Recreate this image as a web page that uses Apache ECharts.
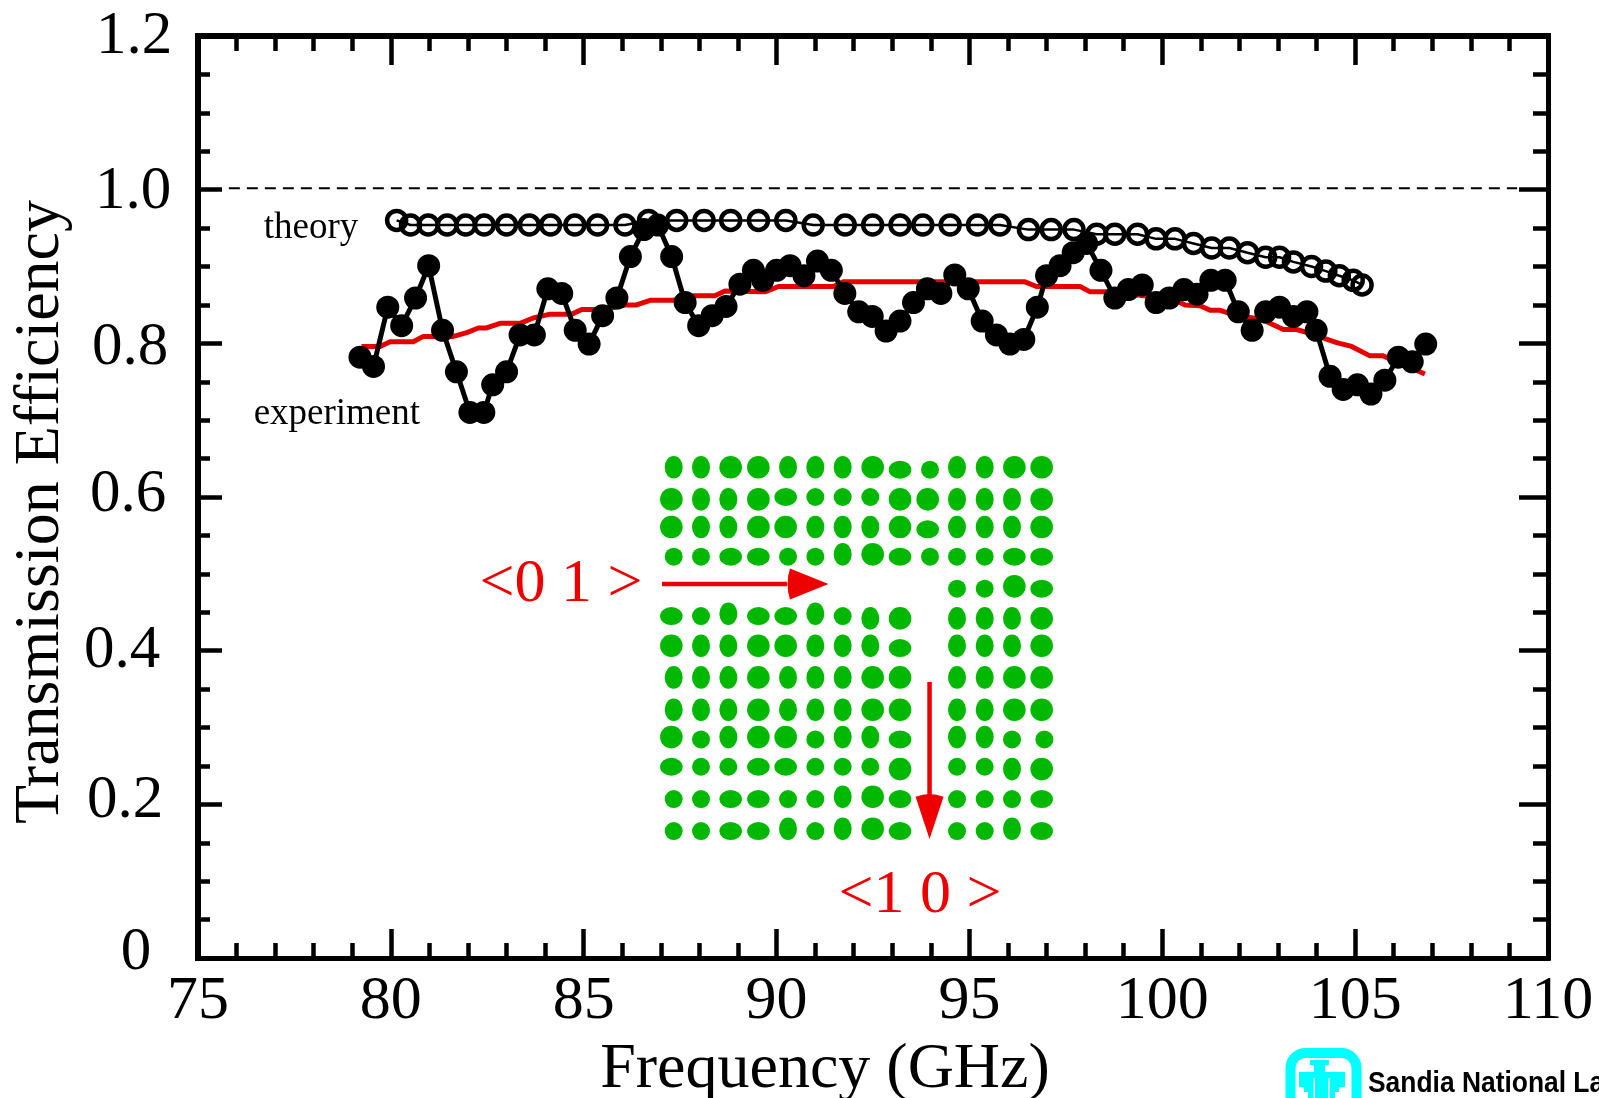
<!DOCTYPE html>
<html><head><meta charset="utf-8">
<style>html,body{margin:0;padding:0;background:#fff;overflow:hidden}#c{width:1599px;height:1098px}</style>
<script src="https://cdn.jsdelivr.net/npm/echarts@6/dist/echarts.min.js"></script>
</head><body><div id="c"></div>
<script>
const xTitle = 'Frequency (GHz)';
const yTitle = 'Transmission Efficiency';
const yTickLabels = ['0','0.2','0.4','0.6','0.8','1.0','1.2'];
const expFreq = [79.20,79.55,79.92,80.28,80.64,80.98,81.34,81.70,82.05,82.41,82.64,83.00,83.35,83.72,84.07,84.43,84.78,85.14,85.49,85.86,86.21,86.56,86.92,87.28,87.63,87.98,88.33,88.69,89.05,89.40,89.64,90.00,90.35,90.71,91.06,91.42,91.77,92.13,92.48,92.84,93.20,93.55,93.91,94.26,94.62,94.97,95.33,95.70,96.05,96.41,96.76,97.00,97.35,97.69,98.04,98.41,98.77,99.12,99.48,99.84,100.18,100.56,100.90,101.26,101.63,101.97,102.33,102.68,103.04,103.40,103.75,103.99,104.35,104.69,105.06,105.41,105.77,106.12,106.48,106.83];
const expEff = [.782,.770,.847,.823,.859,.901,.817,.763,.710,.710,.746,.763,.811,.811,.871,.865,.817,.799,.836,.859,.913,.948,.954,.913,.853,.823,.836,.848,.877,.895,.882,.895,.901,.888,.907,.895,.865,.841,.835,.816,.829,.853,.871,.865,.889,.871,.829,.811,.799,.805,.847,.888,.901,.918,.930,.895,.859,.870,.876,.853,.859,.870,.864,.882,.882,.841,.817,.841,.847,.835,.841,.817,.757,.740,.746,.734,.752,.782,.776,.799];
const theoryFreq = [80.15,80.51,80.97,81.46,81.94,82.42,83.00,83.59,84.14,84.77,85.36,86.07,86.68,87.41,88.12,88.81,89.53,90.24,90.95,91.78,92.49,93.20,93.79,94.50,95.21,95.79,96.53,97.12,97.71,98.30,98.77,99.36,99.84,100.33,100.81,101.28,101.74,102.21,102.68,103.04,103.40,103.87,104.24,104.59,104.95,105.18];
const theoryEff = [.960,.954,.954,.954,.954,.954,.954,.954,.954,.954,.954,.954,.960,.960,.960,.960,.960,.960,.954,.954,.954,.954,.954,.954,.954,.954,.948,.948,.948,.942,.942,.942,.936,.936,.930,.924,.924,.918,.912,.912,.906,.900,.894,.888,.882,.876];
const redFreq = [79.24,79.72,79.98,80.58,80.84,81.62,81.97,82.27,82.48,82.83,83.35,83.69,84.13,84.69,84.95,85.51,86.11,86.37,86.72,87.32,87.84,88.40,88.66,89.70,90.05,91.47,91.73,96.44,96.74,97.87,98.13,98.73,99.51,100.20,100.59,100.98,101.24,101.50,101.93,102.36,102.71,103.14,103.48,103.83,104.52,104.91,105.37,105.71,106.81];
const redEff = [.796,.796,.802,.802,.809,.809,.814,.820,.820,.826,.826,.833,.838,.838,.844,.844,.850,.850,.856,.856,.862,.862,.868,.867,.874,.874,.880,.880,.874,.874,.867,.867,.862,.860,.850,.849,.843,.843,.836,.833,.828,.818,.818,.813,.801,.796,.784,.784,.760];
const unityFreq = [75.8,109.2];
const unityEff = [1.002,1.002];
// Inset lattice: column and row positions for full-size and for narrower / shorter dots.
const colFreqFull   = [87.272,88.041,88.810,89.528,90.236,91.005,91.714,92.492,93.201,93.918,94.678,95.396,96.165,96.873];
const colFreqNarrow = [87.333,88.041,88.750,89.467,90.297,91.005,91.714,92.431,93.140,93.978,94.678,95.396,96.104,96.943];
const rowEffFull  = [.63863,.59697,.56095,.52537,.48369,.44810,.40644,.36521,.32311,.28753,.24587,.20985,.16818];
const rowEffShort = [.63559,.60001,.55791,.52233,.48065,.44506,.40340,.36217,.32007,.28449,.24891,.20681,.16514];
const rowEffLow   = [.63255,.59089,.55487,.51929,.47761,.44202,.40036,.35913,.31703,.28145,.23979,.20377,.16210];
// B big, T tall, W wide, S small, . empty; lower case sits lower in its row
const latticeRows = [
 'TTBBTTTBWSTTBB','BTTBWSSSBBTTTB','BTTBBTTTBWTTTB','SSWWSSTBWSSSWW',
 '..........SSBW','WSTWWTStb.tttb','BTTBBTTTW.TTTB','TTTBTTTBB.TTBB',
 'TTTBTTTBB.TTBB','BSTBBSTTW.TTSS','WSSWWSSSB.SSTB','SSWWSSTBW.SSSW','SSWWTSTBW.SSTW'];
const arrow01Freq = [87.03,90.27];
const arrow01Eff = [.4868,.4868];
const arrow10Freq = [93.966,93.966];
const arrow10Eff = [.3592,.2109];
const annotations = [
 ['theory',77.93,.950],['experiment',78.60,.7080],['<0 1 >',84.41,.4854],['<1 0 >',93.72,.0806]];

const zip = (a,b)=>a.map((v,i)=>[v,b[i]]);
const SERIF='"Liberation Serif"';
const BLK='#000';
const dotSize={B:[22.6,22.6],T:[18,22.6],W:[22.6,18],S:[18,18]};
const lattice=[];
latticeRows.forEach((row,r)=>{[...row].forEach((c,k)=>{
  if(c==='.')return;
  const low=c===c.toLowerCase(), u=c.toUpperCase();
  const wide=u==='B'||u==='W', tall=u==='B'||u==='T';
  lattice.push({value:[wide?colFreqFull[k]:colFreqNarrow[k],low?rowEffLow[r]:(tall?rowEffFull[r]:rowEffShort[r])],symbolSize:dotSize[u]});
});});
const head='path://M50,0 L100,94 Q50,106 0,94 Z';

// Hand-set label offsets of the reference plot, [dx,dy] in px per tick label.
const labelNudge=[[5,-5],[-6,-3.5],[-9,0],[-3,-2],[-1,4.5],[2,2.5],[3,.5]];
const yRich={};
labelNudge.forEach((n,i)=>{yRich['n'+i]={color:BLK,fontFamily:SERIF,fontSize:61,
  padding:[n[1]>0?2*n[1]:0,n[0]<0?-2*n[0]:0,n[1]<0?-2*n[1]:0,n[0]>0?2*n[0]:0]};});

function xAxis(pos,lw,labels){return {type:'value',position:pos,min:75,max:110,interval:5,
  axisLine:{show:true,onZero:false,lineStyle:{color:BLK,width:lw,cap:'square'}},
  axisTick:{show:true,inside:true,length:29,lineStyle:{color:BLK,width:4.5}},
  minorTick:{show:true,splitNumber:5,length:15,lineStyle:{color:BLK,width:4.5}},
  splitLine:{show:false},minorSplitLine:{show:false},
  axisLabel:{show:labels,color:BLK,fontFamily:SERIF,fontSize:62,margin:13,hideOverlap:false},
  name:labels?xTitle:'',nameLocation:'middle',nameGap:74,
  nameTextStyle:{color:BLK,fontFamily:SERIF,fontSize:64,padding:[0,96,0,0]}};}
function yAxis(pos,lw,labels){return {type:'value',position:pos,min:0,max:1.2,interval:.2,
  axisLine:{show:true,onZero:false,lineStyle:{color:BLK,width:lw,cap:'square'}},
  axisTick:{show:true,inside:true,length:labels?24:29,lineStyle:{color:BLK,width:4.5}},
  minorTick:{show:true,splitNumber:4,length:labels?12:15,lineStyle:{color:BLK,width:4.5}},
  splitLine:{show:false},minorSplitLine:{show:false},
  axisLabel:{show:labels,color:BLK,fontFamily:SERIF,fontSize:61,margin:67,align:'center',hideOverlap:false,
    rich:yRich,formatter:v=>{const i=Math.round(v/.2);return '{n'+i+'|'+yTickLabels[i]+'}';}},
  name:labels?yTitle:'',nameLocation:'middle',nameGap:125,nameRotate:90,
  nameTextStyle:{color:BLK,fontFamily:SERIF,fontSize:64,padding:[0,30,0,0]}};}

const chart=echarts.init(document.getElementById('c'),null,{renderer:'canvas'});
const C='#00ffff';
chart.setOption({
  animation:false,backgroundColor:'#fff',
  grid:{left:198,right:51,top:36,bottom:140,containLabel:false,outerBoundsMode:'none'},
  xAxis:[xAxis('bottom',5,true),xAxis('top',6,false)],
  yAxis:[yAxis('left',6,true),yAxis('right',5,false)],
  series:[
    {name:'unity',type:'line',data:zip(unityFreq,unityEff),showSymbol:false,z:2,
      lineStyle:{color:BLK,width:2,type:[11,7]}},
    {name:'theory',type:'line',data:zip(theoryFreq,theoryEff),showAllSymbol:true,symbol:'circle',symbolSize:19,z:3,
      lineStyle:{color:BLK,width:2.5},itemStyle:{color:'rgba(0,0,0,0)',borderColor:BLK,borderWidth:4.5}},
    {name:'model',type:'line',data:zip(redFreq,redEff),showSymbol:false,z:4,
      lineStyle:{color:'#e60000',width:5,join:'round'}},
    {name:'experiment',type:'line',data:zip(expFreq,expEff),showAllSymbol:true,symbol:'circle',symbolSize:23,z:5,
      lineStyle:{color:BLK,width:5},itemStyle:{color:BLK}},
    {name:'lattice',type:'scatter',data:lattice,symbol:'circle',z:6,itemStyle:{color:'#00b800',opacity:1}},
    {name:'arrow01',type:'line',data:zip(arrow01Freq,arrow01Eff),showSymbol:false,z:7,lineStyle:{color:'#ee0000',width:4.5}},
    {name:'arrow10',type:'line',data:zip(arrow10Freq,arrow10Eff),showSymbol:false,z:7,lineStyle:{color:'#ee0000',width:4.5}},
    {name:'arrowheads',type:'scatter',z:8,symbol:head,symbolKeepAspect:false,itemStyle:{color:'#ee0000',opacity:1},
      data:[{value:[90.815,.4868],symbolSize:[31,41],symbolRotate:-90},{value:[93.966,.1842],symbolSize:[28,45],symbolRotate:180}]},
    {name:'annotations',type:'scatter',z:9,symbolSize:1,itemStyle:{color:'rgba(0,0,0,0)',opacity:1},silent:true,
      data:annotations.map((a,i)=>({value:[a[1],a[2]],label:{show:true,position:'inside',formatter:a[0],fontFamily:SERIF,
        fontSize:i<2?37:62,color:i<2?BLK:'#ee0000'}}))}
  ],
  graphic:[
    {type:'rect',silent:true,shape:{x:1290.5,y:1053,width:66,height:70,r:15},style:{fill:'none',stroke:C,lineWidth:10}},
    {type:'rect',silent:true,shape:{x:1310,y:1060,width:19,height:5},style:{fill:C}},
    {type:'rect',silent:true,shape:{x:1314,y:1065,width:11,height:8},style:{fill:C}},
    {type:'rect',silent:true,shape:{x:1299,y:1072,width:46,height:15},style:{fill:C}},
    {type:'rect',silent:true,shape:{x:1304,y:1087,width:35,height:5},style:{fill:C}},
    {type:'rect',silent:true,shape:{x:1308,y:1092,width:27,height:6},style:{fill:C}},
    {type:'rect',silent:true,shape:{x:1313.5,y:1078,width:1.5,height:20},style:{fill:'#fff'}},
    {type:'rect',silent:true,shape:{x:1328,y:1078,width:1.5,height:20},style:{fill:'#fff'}},
    {type:'text',silent:true,x:1368,y:1084,scaleX:.88,style:{text:'Sandia National Laboratories',fill:BLK,
      font:'bold 30px "Liberation Sans"',textVerticalAlign:'middle',textAlign:'left'}}
  ]
});
</script></body></html>
